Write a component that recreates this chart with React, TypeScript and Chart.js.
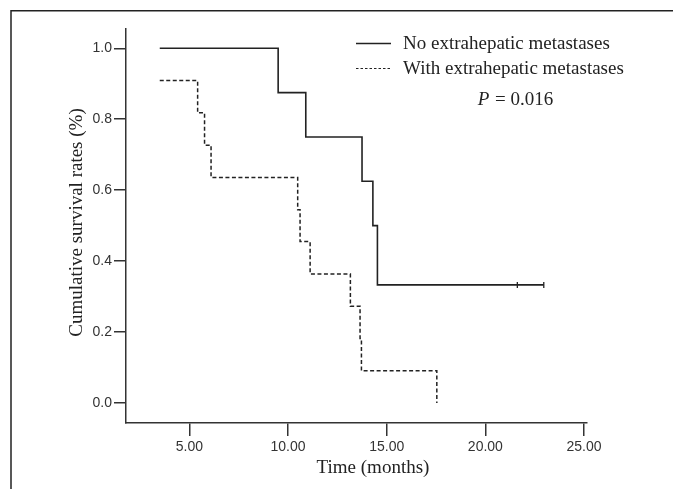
import React, { useEffect, useRef } from "react";
import { Chart, registerables } from "chart.js";

Chart.register(...registerables);

const seriesLabels = ["No extrahepatic metastases", "With extrahepatic metastases"];
const noEhmTimes = [3.5, 9.5, 10.9, 13.75, 14.3, 14.53, 21.62, 22.96];
const noEhmSurvival = [1.0, 0.875, 0.75, 0.625, 0.5, 0.333, 0.333, 0.333];
const noEhmCensoredTimes = [21.62, 22.96];
const noEhmCensoredSurvival = [0.333, 0.333];
const withEhmTimes = [3.5, 5.42, 5.77, 6.1, 10.49, 10.61, 11.12, 13.16, 13.65, 13.72, 17.54];
const withEhmSurvival = [0.909, 0.818, 0.727, 0.636, 0.545, 0.455, 0.364, 0.273, 0.182, 0.091, 0.0];
const xTickValues = [5, 10, 15, 20, 25];
const yTickValues = [0, 0.2, 0.4, 0.6, 0.8, 1.0];
const xTitle = "Time (months)";
const yTitle = "Cumulative survival rates (%)";
const pLabel = "P";
const pValueText = " = 0.016";

const W = 673;
const H = 489;
const INK = "#222";
const TICK_INK = "#333";
const SERIF = '"Liberation Serif", "Times New Roman", serif';
const SANS = '"Liberation Sans", Arial, sans-serif';

const toPoints = (xs: number[], ys: number[]) => xs.map((x, i) => ({ x, y: ys[i] }));

const decorPlugin = {
  id: "decor",
  afterDraw(chart: any) {
    const ctx = chart.ctx as CanvasRenderingContext2D;
    const area = chart.chartArea;
    ctx.save();
    // frame (top and left edges)
    ctx.strokeStyle = INK;
    ctx.lineWidth = 1.5;
    ctx.setLineDash([]);
    ctx.beginPath();
    ctx.moveTo(W, 10.75);
    ctx.lineTo(11, 10.75);
    ctx.lineTo(11, H);
    ctx.stroke();

    // legend
    ctx.fillStyle = INK;
    ctx.font = `19px ${SERIF}`;
    ctx.textBaseline = "middle";
    ctx.textAlign = "left";
    const rows = [43.5, 68.5];
    const dashes = [[], [2.5, 2]];
    const widths = [1.5, 1.2];
    rows.forEach((y, i) => {
      ctx.strokeStyle = INK;
      ctx.lineWidth = widths[i];
      ctx.setLineDash(dashes[i]);
      ctx.beginPath();
      ctx.moveTo(356, y);
      ctx.lineTo(391, y);
      ctx.stroke();
      ctx.setLineDash([]);
      ctx.fillText(chart.data.datasets[i].label, 403, y + 1);
    });

    // P value
    ctx.font = `italic 19px ${SERIF}`;
    const pw = ctx.measureText(pLabel).width;
    ctx.font = `19px ${SERIF}`;
    const rw = ctx.measureText(pValueText).width;
    const startX = 515 - (pw + rw) / 2;
    ctx.font = `italic 19px ${SERIF}`;
    ctx.fillText(pLabel, startX, 100);
    ctx.font = `19px ${SERIF}`;
    ctx.fillText(pValueText, startX + pw + 1, 100);

    // axis titles
    ctx.textAlign = "center";
    ctx.fillText(xTitle, 373, 468);
    ctx.save();
    ctx.translate(77, 222.5);
    ctx.rotate(-Math.PI / 2);
    ctx.fillText(yTitle, 0, 0);
    ctx.restore();
    ctx.restore();
  },
};

export default function App() {
  const ref = useRef<HTMLCanvasElement | null>(null);

  useEffect(() => {
    if (!ref.current) return;
    const chart = new Chart(ref.current, {
      type: "line",
      data: {
        datasets: [
          {
            label: seriesLabels[0],
            data: toPoints(noEhmTimes, noEhmSurvival),
            stepped: "before",
            borderColor: INK,
            borderWidth: 1.6,
            pointRadius: 0,
            fill: false,
          },
          {
            label: seriesLabels[1],
            data: toPoints(withEhmTimes, withEhmSurvival),
            stepped: "before",
            borderColor: INK,
            borderWidth: 1.5,
            borderDash: [4, 2.5],
            pointRadius: 0,
            fill: false,
          },
          {
            label: "censored",
            data: toPoints(noEhmCensoredTimes, noEhmCensoredSurvival),
            showLine: false,
            pointStyle: "line",
            rotation: 90,
            pointRadius: 3,
            borderColor: INK,
            backgroundColor: INK,
            pointBorderWidth: 1.3,
          } as any,
        ],
      },
      options: {
        responsive: false,
        animation: false,
        devicePixelRatio: 1,
        layout: { padding: { left: 0, top: 29, right: W - 587, bottom: 0 } },
        plugins: { legend: { display: false }, tooltip: { enabled: false } },
        scales: {
          x: {
            type: "linear",
            min: 1.79,
            max: 25.15,
            afterBuildTicks: (s: any) => {
              s.ticks = xTickValues.map((v) => ({ value: v }));
            },
            afterFit: (s: any) => {
              s.height = H - 423;
            },
            ticks: {
              callback: (v: any) => Number(v).toFixed(2),
              font: { family: SANS, size: 14 },
              color: TICK_INK,
              padding: 3,
              maxRotation: 0,
              autoSkip: false,
            },
            grid: { drawOnChartArea: false, drawTicks: true, tickLength: 13, color: TICK_INK, lineWidth: 1.5 },
            border: { display: true, color: TICK_INK, width: 1.5 },
          },
          y: {
            type: "linear",
            min: -0.0564,
            max: 1.0544,
            afterBuildTicks: (s: any) => {
              s.ticks = yTickValues.map((v) => ({ value: v }));
            },
            afterFit: (s: any) => {
              s.width = 126;
            },
            ticks: {
              callback: (v: any) => Number(v).toFixed(1),
              font: { family: SANS, size: 14 },
              color: TICK_INK,
              padding: 2,
              autoSkip: false,
            },
            grid: { drawOnChartArea: false, drawTicks: true, tickLength: 12, color: TICK_INK, lineWidth: 1.5 },
            border: { display: true, color: TICK_INK, width: 1.5 },
          },
        },
      },
      plugins: [decorPlugin],
    } as any);
    return () => chart.destroy();
  }, []);

  return (
    <div style={{ position: "absolute", left: 0, top: 0, width: W, height: H, background: "#fff" }}>
      <canvas ref={ref} width={W} height={H} style={{ display: "block", width: W, height: H }} />
    </div>
  );
}
